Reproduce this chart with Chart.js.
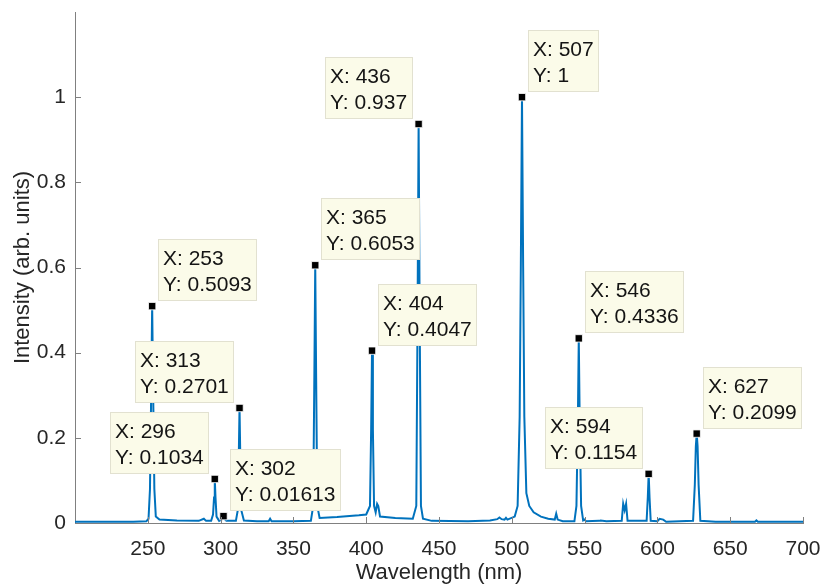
<!DOCTYPE html>
<html>
<head>
<meta charset="utf-8">
<script src="https://cdn.jsdelivr.net/npm/chart.js@4/dist/chart.umd.min.js"></script>
<style>
  html, body { margin: 0; padding: 0; background: #ffffff; }
  #wrap { width: 825px; height: 588px; }
</style>
</head>
<body>
<div id="wrap"><canvas id="spectrum" width="825" height="588"></canvas></div>
<script>
// Emission spectrum samples (nm, arb. units)
const wavelength = [
  200, 220, 240, 249, 250.5, 251.5, 252.3, 253, 253.7, 254.5, 255.5, 258, 270, 285, 288.5, 290,
  293.5, 294.8, 295.5, 296, 296.5, 297.2, 299, 301.5, 302, 302.5, 304,
  310.5, 311.8, 312.5, 313, 313.5, 314.2, 316, 325, 333, 334, 335, 350,
  362, 363.6, 364.4, 365, 365.6, 366.4, 368, 380, 395, 400,
  402.6, 403.4, 404, 404.6, 405.4, 406.5, 407.5, 408.3, 409.5, 420, 432,
  434.4, 435.3, 436, 436.7, 437.6, 439, 445, 470, 485, 490, 491.5, 493, 495, 496, 497,
  502, 504, 505.4, 506.2, 507, 507.8, 508.6, 510, 512, 515, 520, 525, 529.5, 530.5, 531.5, 535,
  543, 544.4, 545.4, 546, 546.6, 547.6, 549, 550, 551, 560, 561, 565,
  575.5, 576.5, 577.5, 578.5, 579.5, 592.6, 593.4, 594, 594.6, 595.4, 600, 601.5, 604, 606,
  624.5, 625.7, 626.4, 627, 627.6, 628.3, 629.5, 640, 667, 668, 669, 700
];
const intensity = [
  0.003, 0.003, 0.003, 0.004, 0.01, 0.08, 0.30, 0.5093, 0.30, 0.08, 0.015, 0.008, 0.006, 0.005, 0.01, 0.005,
  0.005, 0.02, 0.06, 0.1034, 0.06, 0.015, 0.005, 0.01, 0.01613, 0.01, 0.005,
  0.005, 0.03, 0.16, 0.2701, 0.16, 0.03, 0.006, 0.004, 0.004, 0.01, 0.004, 0.004,
  0.005, 0.04, 0.35, 0.6053, 0.35, 0.04, 0.012, 0.014, 0.018, 0.02,
  0.04, 0.22, 0.4047, 0.22, 0.04, 0.025, 0.045, 0.04, 0.015, 0.012, 0.010,
  0.04, 0.5, 0.937, 0.5, 0.04, 0.01, 0.005, 0.004, 0.006, 0.009, 0.013, 0.009, 0.008, 0.012, 0.008,
  0.015, 0.04, 0.25, 0.6, 1, 0.6, 0.25, 0.07, 0.04, 0.025, 0.015, 0.01, 0.008, 0.022, 0.008, 0.004,
  0.004, 0.04, 0.25, 0.4336, 0.25, 0.04, 0.006, 0.008, 0.004, 0.005, 0.006, 0.004,
  0.005, 0.045, 0.03, 0.045, 0.005, 0.005, 0.06, 0.1154, 0.06, 0.005, 0.004, 0.01, 0.008, 0.003,
  0.005, 0.09, 0.18, 0.2099, 0.18, 0.09, 0.005, 0.003, 0.003, 0.006, 0.003, 0.003
];

// Labelled peaks
const peakX = [253, 296, 302, 313, 365, 404, 436, 507, 546, 594, 627];
const peakY = [0.5093, 0.1034, 0.01613, 0.2701, 0.6053, 0.4047, 0.937, 1, 0.4336, 0.1154, 0.2099];

// Axis ticks
const xTicks = [250, 300, 350, 400, 450, 500, 550, 600, 650, 700];
const yTicks = [0, 0.2, 0.4, 0.6, 0.8, 1];

const FONT = '"Liberation Sans", Arial, Helvetica, sans-serif';
const AXIS_COLOR = '#808080';
const TEXT_COLOR = '#262626';

// Inward-pointing tick marks
const innerTicks = {
  id: 'innerTicks',
  afterDraw(chart) {
    const { ctx, chartArea, scales: { x, y } } = chart;
    ctx.save();
    ctx.strokeStyle = AXIS_COLOR;
    ctx.lineWidth = 1;
    ctx.beginPath();
    xTicks.forEach(v => {
      const px = Math.round(x.getPixelForValue(v)) + 0.5;
      ctx.moveTo(px, chartArea.bottom);
      ctx.lineTo(px, chartArea.bottom - 6);
    });
    yTicks.forEach(v => {
      const py = Math.round(y.getPixelForValue(v)) + 0.5;
      ctx.moveTo(chartArea.left, py);
      ctx.lineTo(chartArea.left + 6, py);
    });
    ctx.stroke();
    ctx.restore();
  }
};

// Data-tip boxes next to the labelled peaks
const dataTips = {
  id: 'dataTips',
  afterDatasetsDraw(chart, args, opts) {
    const { ctx, scales: { x, y } } = chart;
    ctx.save();
    ctx.font = '21px ' + FONT;
    peakX.forEach((vx, i) => {
      const px = x.getPixelForValue(vx);
      const py = y.getPixelForValue(peakY[i]);
      const l1 = 'X: ' + vx;
      const l2 = 'Y: ' + peakY[i];
      const w = Math.ceil(Math.max(ctx.measureText(l1).width, ctx.measureText(l2).width)) + 10;
      const h = 62;
      const left = Math.round(opts.sides[i] === 'nw' ? px - 6 - w : px + 6);
      const top = Math.round(py - 5 - h);
      ctx.fillStyle = '#fbfbe9';
      ctx.fillRect(left, top, w, h);
      ctx.strokeStyle = '#e2e1d0';
      ctx.lineWidth = 1;
      ctx.strokeRect(left + 0.5, top + 0.5, w - 1, h - 1);
      ctx.fillStyle = '#141414';
      ctx.textAlign = 'left';
      ctx.textBaseline = 'alphabetic';
      ctx.fillText(l1, left + 5, top + 26);
      ctx.fillText(l2, left + 5, top + 52);
    });
    ctx.restore();
  }
};

new Chart(document.getElementById('spectrum'), {
  type: 'line',
  data: {
    datasets: [
      {
        label: 'Peaks',
        type: 'scatter',
        data: peakX.map((v, i) => ({ x: v, y: peakY[i] })),
        pointStyle: 'rect',
        pointRadius: 5.2,
        backgroundColor: '#000000',
        borderColor: '#ffffff',
        borderWidth: 0.8,
        order: 0
      },
      {
        label: 'Spectrum',
        data: wavelength.map((v, i) => ({ x: v, y: intensity[i] })),
        borderColor: '#0072BD',
        borderWidth: 2,
        pointRadius: 0,
        tension: 0,
        fill: false,
        order: 1
      }
    ]
  },
  options: {
    responsive: false,
    devicePixelRatio: 1,
    animation: false,
    events: [],
    layout: { padding: { top: 12, right: 22, left: 0, bottom: 0 } },
    plugins: {
      legend: { display: false },
      tooltip: { enabled: false },
      dataTips: { sides: ['ne', 'nw', 'ne', 'nw', 'ne', 'ne', 'nw', 'ne', 'ne', 'nw', 'ne'] }
    },
    scales: {
      x: {
        type: 'linear',
        min: 200,
        max: 700,
        afterBuildTicks(scale) { scale.ticks = xTicks.map(v => ({ value: v })); },
        afterFit(scale) {
          scale.height = 65;
          scale.paddingLeft = 0;
          scale.paddingRight = 0;
        },
        grid: { display: true, drawOnChartArea: false, drawTicks: false },
        border: { display: true, color: AXIS_COLOR, width: 1 },
        ticks: {
          padding: 14,
          color: TEXT_COLOR,
          font: { family: FONT, size: 21 },
          maxRotation: 0,
          callback: v => String(v)
        },
        title: {
          display: true,
          text: 'Wavelength (nm)',
          color: TEXT_COLOR,
          font: { family: FONT, size: 22 },
          padding: { top: 0, bottom: 2 }
        }
      },
      y: {
        type: 'linear',
        min: 0,
        max: 1.2,
        afterBuildTicks(scale) { scale.ticks = yTicks.map(v => ({ value: v })); },
        afterFit(scale) {
          scale.width = 75;
          scale.paddingTop = 0;
          scale.paddingBottom = 0;
        },
        grid: { display: true, drawOnChartArea: false, drawTicks: false },
        border: { display: true, color: AXIS_COLOR, width: 1 },
        ticks: {
          padding: 9,
          color: TEXT_COLOR,
          font: { family: FONT, size: 21 },
          callback: v => String(Math.round(v * 10) / 10)
        },
        title: {
          display: true,
          text: 'Intensity (arb. units)',
          color: TEXT_COLOR,
          font: { family: FONT, size: 22 },
          padding: { top: 10, bottom: 0 }
        }
      }
    }
  },
  plugins: [dataTips, innerTicks]
});
</script>
</body>
</html>
